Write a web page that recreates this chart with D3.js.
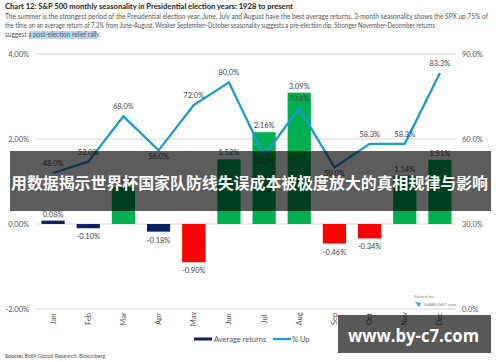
<!DOCTYPE html>
<html>
<head>
<meta charset="utf-8">
<script src="https://cdn.jsdelivr.net/npm/d3@7/dist/d3.min.js"></script>
<style>
  body { margin: 0; background: #fff; }
  svg { display: block; font-family: Lato, "Open Sans", sans-serif; }
</style>
</head>
<body>
<svg id="vis"></svg>
<script>
  // chart values
  var months = ['Jan','Feb','Mar','Apr','May','Jun','Jul','Aug','Sep','Oct','Nov','Dec'];
  var avgReturns = [0.08, -0.10, 0.87, -0.18, -0.90, 1.52, 2.16, 3.09, -0.46, -0.34, 1.14, 1.51];
  var barColors = ['#0b2364','#0b2364','#00b050','#0b2364','#ff0000','#00b050','#00b050','#00b050','#ff0000','#ff0000','#00b050','#00b050'];
  var pctUp = [48.0, 52.0, 68.0, 56.0, 72.0, 80.0, 54.2, 70.8, 50.0, 58.3, 58.3, 83.3];
  var upLabelBelow = [false, false, false, true, false, false, true, false, true, false, false, false];
  var leftTicks = [4, 2, 0, -2];
  var rightTicks = [90, 60, 30, 0];

  var title = 'Chart 12: S&P 500 monthly seasonality in Presidential election years: 1928 to present';
  var subtitle = [
    'The summer is the strongest period of the Presidential election year. June, July and August have the best average returns. 3-month seasonality shows the SPX up 75% of',
    'the time on an average return of 7.3% from June-August. Weaker September-October seasonality suggests a pre-election dip. Stronger November-December returns',
    'suggest a post-election relief rally.'
  ];
  var subWidths = [483, 430, 96];

  var svg = d3.select('#vis').attr('width', 500).attr('height', 362);

  var x = d3.scaleBand().domain(months).range([35.5, 457.5]).paddingInner(0.34).paddingOuter(0.17);
  var yL = d3.scaleLinear().domain([-2, 4]).range([309, 54]);
  var yR = d3.scaleLinear().domain([0, 90]).range([309, 54]);

  // header
  svg.append('text').attr('x', 5).attr('y', 9).attr('font-size', 7.6).attr('font-weight', 'bold')
    .attr('fill', '#222').text(title);
  svg.append('rect').attr('x', 29).attr('y', 31).attr('width', 68).attr('height', 8).attr('fill', '#b9d5ee');
  svg.selectAll('.sub').data(subtitle).enter().append('text')
    .attr('x', 5).attr('y', function(d, i) { return 19 + i * 9; })
    .attr('textLength', function(d, i) { return subWidths[i]; })
    .attr('lengthAdjust', 'spacingAndGlyphs')
    .attr('font-size', 6.8).attr('fill', '#555').text(function(d) { return d; });

  // gridlines
  svg.selectAll('.grid').data(leftTicks).enter().append('line')
    .attr('x1', 36).attr('x2', 456)
    .attr('y1', function(d) { return yL(d); }).attr('y2', function(d) { return yL(d); })
    .attr('stroke', '#d6d6d6').attr('stroke-width', 1);

  svg.selectAll('.lt').data(leftTicks).enter().append('text')
    .attr('x', 29).attr('y', function(d) { return yL(d) + 3; })
    .attr('text-anchor', 'end').attr('font-size', 7.5).attr('fill', '#555')
    .text(function(d) { return d.toFixed(2) + '%'; });
  svg.selectAll('.rt').data(rightTicks).enter().append('text')
    .attr('x', 462).attr('y', function(d) { return yR(d) + 3; })
    .attr('font-size', 7.5).attr('fill', '#555')
    .text(function(d) { return d.toFixed(1) + '%'; });

  // bars
  svg.selectAll('.bar').data(avgReturns).enter().append('rect')
    .attr('x', function(d, i) { return x(months[i]); })
    .attr('width', x.bandwidth())
    .attr('y', function(d) { return yL(Math.max(d, 0)); })
    .attr('height', function(d) { return Math.abs(yL(d) - yL(0)); })
    .attr('fill', function(d, i) { return barColors[i]; });

  svg.selectAll('.blab').data(avgReturns).enter().append('text')
    .attr('x', function(d, i) { return x(months[i]) + x.bandwidth() / 2; })
    .attr('y', function(d) { return d >= 0 ? yL(d) - 4 : yL(d) + 11; })
    .attr('text-anchor', 'middle').attr('font-size', 7.5).attr('fill', '#444')
    .text(function(d) { return d.toFixed(2) + '%'; });

  // % up line
  var line = d3.line()
    .x(function(d, i) { return x(months[i]) + x.bandwidth() / 2; })
    .y(function(d) { return yR(d); });
  svg.append('path').datum(pctUp).attr('d', line)
    .attr('fill', 'none').attr('stroke', '#1b9ad6').attr('stroke-width', 2.3);

  svg.selectAll('.llab').data(pctUp).enter().append('text')
    .attr('x', function(d, i) { return x(months[i]) + x.bandwidth() / 2; })
    .attr('y', function(d, i) { return upLabelBelow[i] ? yR(d) + 9 : yR(d) - 7; })
    .attr('text-anchor', 'middle').attr('font-size', 7.5).attr('fill', '#444')
    .text(function(d) { return d.toFixed(1) + '%'; });

  // month labels
  svg.selectAll('.mon').data(months).enter().append('text')
    .attr('transform', function(d) { return 'translate(' + (x(d) + x.bandwidth() / 2 + 2.5) + ',319) rotate(-90)'; })
    .attr('text-anchor', 'middle').attr('font-size', 7.5).attr('fill', '#555')
    .text(function(d) { return d; });

  // legend
  var lg = svg.append('g').attr('transform', 'translate(194,339)');
  lg.append('rect').attr('x', 0).attr('y', -1.5).attr('width', 18).attr('height', 3).attr('fill', '#0b2364');
  lg.append('text').attr('x', 20).attr('y', 2.5).attr('font-size', 7.5).attr('fill', '#555').text('Average returns');
  lg.append('line').attr('x1', 79).attr('x2', 97).attr('y1', 0).attr('y2', 0).attr('stroke', '#1b9ad6').attr('stroke-width', 2.3);
  lg.append('text').attr('x', 98).attr('y', 2.5).attr('font-size', 7.5).attr('fill', '#555').text('% Up');

  // source
  var src = svg.append('text').attr('x', 5).attr('y', 358).attr('font-size', 5.5).attr('fill', '#555');
  src.append('tspan').attr('font-weight', 'bold').text('Source: ');
  src.append('tspan').text('BofA Global Research, Bloomberg');

  // watermark
  svg.append('text').attr('x', 414).attr('y', 298).attr('font-size', 4.5).attr('fill', '#888').text('Posted on');
  svg.append('path').attr('d', 'M415,302 l6,1 l-2,4 z').attr('fill', '#4a9fd5');
  svg.append('text').attr('x', 424).attr('y', 306).attr('font-size', 4.5).attr('fill', '#888').text('ISABELNET.com');

  // overlay banners
  svg.append('rect').attr('x', 10).attr('y', 151).attr('width', 481).attr('height', 60)
    .attr('fill', '#000').attr('fill-opacity', 0.64);
  svg.append('text').attr('x', 11).attr('y', 189)
    .attr('textLength', 477).attr('lengthAdjust', 'spacingAndGlyphs')
    .attr('font-family', '"Noto Sans CJK SC", sans-serif').attr('font-weight', 'bold')
    .attr('font-size', 15.5).attr('fill', '#fff')
    .text('用数据揭示世界杯国家队防线失误成本被极度放大的真相规律与影响');

  svg.append('rect').attr('x', 338).attr('y', 315).attr('width', 153).attr('height', 38)
    .attr('fill', '#000').attr('fill-opacity', 0.65);
  svg.append('text').attr('x', 348).attr('y', 342)
    .attr('textLength', 131).attr('lengthAdjust', 'spacingAndGlyphs')
    .attr('font-family', '"Open Sans", sans-serif').attr('font-weight', 'bold')
    .attr('font-size', 17).attr('fill', '#fff').text('www.by-c7.com');
</script>
</body>
</html>
